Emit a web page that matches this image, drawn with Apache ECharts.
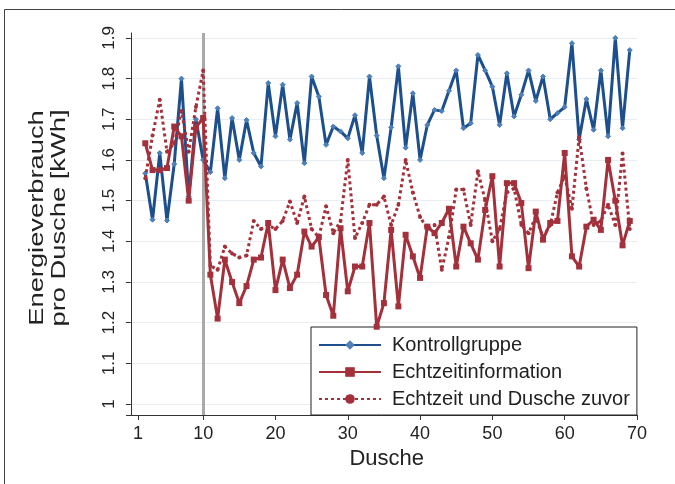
<!DOCTYPE html>
<html>
<head>
<meta charset="utf-8">
<title>Energieverbrauch pro Dusche</title>
<script src="https://cdn.jsdelivr.net/npm/echarts@6.0.0/dist/echarts.min.js"></script>
<style>
  html, body { margin: 0; padding: 0; background: #fff; }
  #chart { width: 675px; height: 484px; }
</style>
</head>
<body>
<div id="chart"></div>
<script>
  // Dusche (x)
  const dusche = [2, 3, 4, 5, 6, 7, 8, 9, 10, 11, 12, 13, 14, 15, 16, 17, 18, 19, 20,
    21, 22, 23, 24, 25, 26, 27, 28, 29, 30, 31, 32, 33, 34, 35, 36, 37, 38, 39, 40,
    41, 42, 43, 44, 45, 46, 47, 48, 49, 50, 51, 52, 53, 54, 55, 56, 57, 58, 59, 60,
    61, 62, 63, 64, 65, 66, 67, 68, 69];

  // Energieverbrauch [kWh]
  const kontrollgruppe = [1.567, 1.453, 1.617, 1.451, 1.59, 1.80, 1.51, 1.70, 1.60, 1.57,
    1.727, 1.555, 1.703, 1.60, 1.698, 1.617, 1.584, 1.789, 1.658, 1.785,
    1.65, 1.74, 1.592, 1.805, 1.756, 1.637, 1.682, 1.67, 1.653, 1.71,
    1.617, 1.805, 1.66, 1.555, 1.68, 1.83, 1.63, 1.764, 1.60, 1.686,
    1.723, 1.72, 1.77, 1.82, 1.678, 1.69, 1.858, 1.82, 1.78, 1.686,
    1.813, 1.707, 1.76, 1.82, 1.745, 1.805, 1.70, 1.715, 1.73, 1.887,
    1.65, 1.75, 1.674, 1.82, 1.658, 1.90, 1.678, 1.87];

  const echtzeitinformation = [1.641, 1.575, 1.575, 1.58, 1.682, 1.658, 1.50, 1.68, 1.703, 1.318,
    1.21, 1.355, 1.30, 1.248, 1.29, 1.355, 1.36, 1.445, 1.28, 1.355,
    1.285, 1.318, 1.424, 1.387, 1.41, 1.268, 1.217, 1.432, 1.277, 1.338,
    1.338, 1.445, 1.19, 1.248, 1.428, 1.24, 1.416, 1.363, 1.31, 1.436,
    1.42, 1.445, 1.48, 1.338, 1.436, 1.395, 1.355, 1.477, 1.56, 1.338,
    1.543, 1.543, 1.494, 1.334, 1.473, 1.404, 1.445, 1.45, 1.617, 1.363,
    1.338, 1.436, 1.453, 1.428, 1.60, 1.50, 1.39, 1.45];

  const echtzeitDuscheZuvor = [1.555, 1.66, 1.748, 1.62, 1.64, 1.72, 1.62, 1.73, 1.82, 1.34,
    1.33, 1.387, 1.37, 1.36, 1.365, 1.45, 1.43, 1.44, 1.43, 1.45,
    1.498, 1.445, 1.51, 1.43, 1.41, 1.486, 1.42, 1.45, 1.60, 1.408,
    1.445, 1.49, 1.49, 1.51, 1.44, 1.49, 1.60, 1.52, 1.46, 1.43,
    1.44, 1.33, 1.41, 1.527, 1.527, 1.44, 1.572, 1.50, 1.40, 1.43,
    1.52, 1.53, 1.44, 1.42, 1.46, 1.41, 1.44, 1.52, 1.56, 1.48,
    1.656, 1.53, 1.44, 1.45, 1.49, 1.44, 1.616, 1.43];

  const xTicks = [1, 10, 20, 30, 40, 50, 60, 70];
  const yTicks = [1, 1.1, 1.2, 1.3, 1.4, 1.5, 1.6, 1.7, 1.8, 1.9];
  const startLine = 10;

  const font = '"Liberation Sans", Arial, sans-serif';
  const blue = '#1c4f8c';
  const red = '#a3303a';

  function pairs(ys) {
    return dusche.map(function (x, i) { return [x, ys[i]]; });
  }

  const chart = echarts.init(document.getElementById('chart'), null, {renderer: 'canvas'});

  chart.setOption({
    animation: false,
    backgroundColor: '#fff',
    grid: {left: 126.5, right: 38, top: 33, bottom: 69},
    xAxis: {
      type: 'value',
      min: -0.6,
      max: 70,
      name: 'Dusche',
      nameLocation: 'middle',
      nameGap: 30,
      nameTextStyle: {fontFamily: font, fontSize: 22, color: '#222', padding: [0, 0, 0, 10]},
      axisLine: {lineStyle: {color: '#333', width: 1}},
      axisTick: {show: true, length: 5, customValues: xTicks, lineStyle: {color: '#333'}},
      axisLabel: {customValues: xTicks, fontFamily: font, fontSize: 18, color: '#222', margin: 10},
      splitLine: {show: false}
    },
    yAxis: {
      type: 'value',
      min: 0.973,
      max: 1.912,
      axisLine: {show: true, lineStyle: {color: '#333', width: 1}},
      axisTick: {show: true, length: 5, customValues: yTicks, lineStyle: {color: '#333'}},
      axisLabel: {
        customValues: yTicks, rotate: 90, fontFamily: font, fontSize: 17, color: '#222', margin: 9,
        formatter: function (v) { return String(Math.round(v * 10) / 10); }
      },
      splitLine: {show: true, lineStyle: {color: '#e7edf1', width: 1}}
    },
    legend: {
      orient: 'vertical',
      left: 311,
      top: 327,
      padding: [8, 7, 6, 7],
      itemGap: 7,
      itemWidth: 62,
      itemHeight: 12,
      backgroundColor: '#fff',
      borderColor: '#222',
      borderWidth: 1,
      borderRadius: 0,
      textStyle: {fontFamily: font, fontSize: 20, color: '#222', lineHeight: 20, padding: [0, 0, 0, 6]},
      data: ['Kontrollgruppe', 'Echtzeitinformation', 'Echtzeit und Dusche zuvor']
    },
    graphic: [
      {
        type: 'rect', silent: true, z: -10,
        shape: {x: 4.5, y: 9.5, width: 700, height: 500},
        style: {fill: 'none', stroke: '#444', lineWidth: 1}
      },
      {
        // y-Achsentitel, im Original etwas gestreckt
        type: 'text', x: 37, y: 218, rotation: Math.PI / 2, scaleX: 1.3,
        style: {text: 'Energieverbrauch', fontFamily: font, fontSize: 21, fill: '#222',
                textAlign: 'center', textVerticalAlign: 'middle', verticalAlign: 'middle'}
      },
      {
        type: 'text', x: 59, y: 218, rotation: Math.PI / 2, scaleX: 1.3,
        style: {text: 'pro Dusche [kWh]', fontFamily: font, fontSize: 21, fill: '#222',
                textAlign: 'center', textVerticalAlign: 'middle', verticalAlign: 'middle'}
      }
    ],
    series: [
      {
        name: 'Kontrollgruppe',
        type: 'line',
        z: 3,
        data: pairs(kontrollgruppe),
        symbol: 'diamond',
        symbolSize: 5,
        lineStyle: {color: blue, width: 3},
        itemStyle: {color: '#4d7fb8', borderColor: '#4d7fb8'},
        markLine: {
          silent: true,
          symbol: 'none',
          label: {show: false},
          lineStyle: {color: '#a9a9a9', width: 3, type: 'solid'},
          data: [{xAxis: startLine}],
          z: 1
        }
      },
      {
        name: 'Echtzeitinformation',
        type: 'line',
        z: 4,
        data: pairs(echtzeitinformation),
        symbol: 'rect',
        symbolSize: 6,
        lineStyle: {color: red, width: 3},
        itemStyle: {color: red}
      },
      {
        name: 'Echtzeit und Dusche zuvor',
        type: 'line',
        z: 5,
        data: pairs(echtzeitDuscheZuvor),
        symbol: 'circle',
        symbolSize: 4,
        lineStyle: {color: red, width: 3, type: [3, 3]},
        itemStyle: {color: red}
      }
    ]
  });
</script>
</body>
</html>
